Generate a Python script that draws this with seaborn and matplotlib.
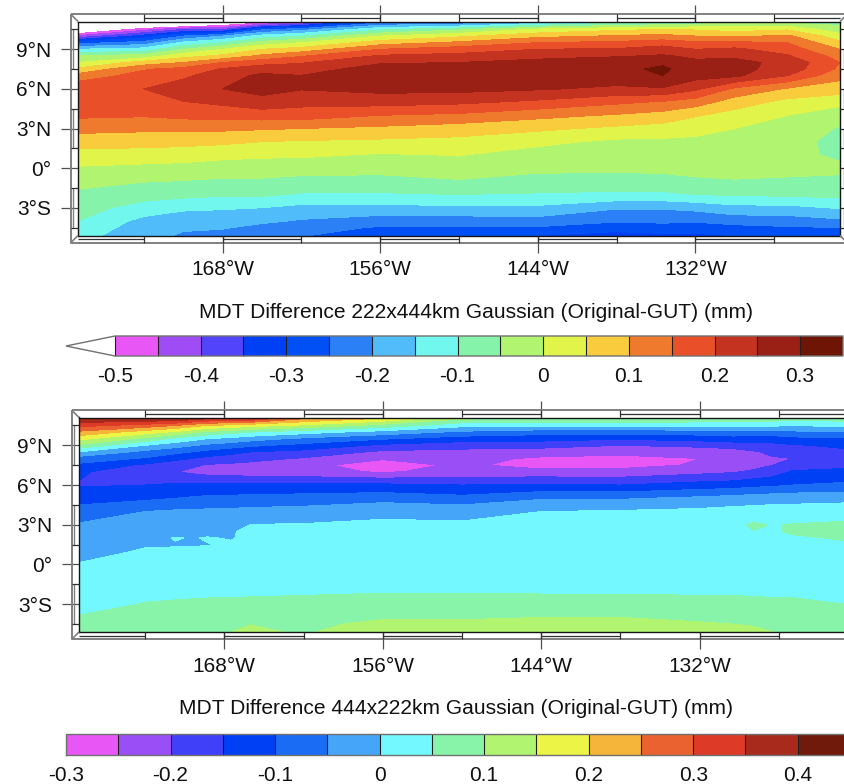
import numpy as np
import seaborn as sns
import matplotlib.pyplot as plt
from matplotlib.colors import BoundaryNorm, ListedColormap

W, H = 845, 784

lon_top = [-179, -174, -171, -168, -165, -162, -156, -150, -144, -138, -134.5, -132, -129, -125, -121]
lat_top = [-5.1, -4.5, -4, -3, -2, -1, 0, 1, 2, 3, 4, 5, 6, 7, 7.5, 8, 8.5, 9, 9.5, 10, 10.5, 11.1]
# one list per longitude, south to north
mdt_top = [
    [-.13, -.115, -.1, -.08, -.06, -.035, -.005, .03, .075, .115, .16, .185, .19, .12, .06, 0, -.05, -.15, -.27, -.44, -.6, -.8],
    [-.185, -.175, -.165, -.12, -.08, -.048, -.012, .026, .07, .11, .155, .18, .2, .17, .145, .07, -.03, -.13, -.23, -.33, -.47, -.7],
    [-.205, -.195, -.18, -.14, -.085, -.052, -.018, .025, .065, .11, .165, .198, .23, .19, .165, .1, .03, -.05, -.14, -.25, -.4, -.7],
    [-.22, -.195, -.18, -.145, -.093, -.058, -.025, .015, .06, .11, .17, .21, .25, .23, .205, .15, .06, 0, -.1, -.2, -.4, -.6],
    [-.235, -.215, -.19, -.15, -.092, -.058, -.025, .008, .05, .105, .175, .23, .27, .26, .23, .18, .11, .05, -.03, -.13, -.26, -.55],
    [-.245, -.23, -.205, -.165, -.105, -.065, -.03, .008, .045, .1, .175, .215, .253, .251, .23, .195, .145, .07, 0, -.1, -.22, -.49],
    [-.29, -.255, -.225, -.165, -.105, -.07, -.03, -.005, .04, .09, .15, .22, .265, .28, .27, .245, .205, .15, .075, 0, -.11, -.28],
    [-.3, -.255, -.225, -.16, -.1, -.055, -.02, .002, .035, .075, .14, .21, .265, .28, .27, .25, .215, .175, .11, .04, -.06, -.27],
    [-.3, -.255, -.22, -.16, -.105, -.066, -.04, -.02, .012, .06, .115, .19, .255, .28, .285, .27, .23, .2, .15, .085, .01, -.2],
    [-.325, -.275, -.245, -.195, -.11, -.07, -.04, -.03, -.01, .04, .095, .16, .24, .28, .285, .28, .245, .205, .16, .105, .04, -.14],
    [-.31, -.27, -.24, -.195, -.11, -.065, -.04, -.03, -.01, .03, .08, .145, .245, .3, .31, .29, .255, .225, .175, .115, .05, -.12],
    [-.31, -.27, -.245, -.185, -.1, -.055, -.04, -.025, -.01, .015, .055, .125, .21, .27, .27, .26, .24, .2, .16, .1, .045, -.1],
    [-.3, -.265, -.23, -.165, -.095, -.052, -.04, -.03, -.018, 0, .03, .075, .14, .26, .265, .265, .24, .21, .16, .09, .03, -.05],
    [-.3, -.255, -.225, -.165, -.09, -.055, -.04, -.042, -.038, -.015, 0, .035, .095, .2, .23, .235, .205, .175, .15, .11, .045, -.07],
    [-.28, -.25, -.21, -.145, -.085, -.055, -.045, -.055, -.06, -.055, -.03, .015, .075, .115, .14, .15, .13, .1, .06, .02, -.03, -.07],
]

lon_bot = [-179, -174, -171.7, -170.5, -169.3, -167.5, -166, -162, -156, -150, -144, -138, -132, -129.5, -127.9, -126.5, -125, -121]
lat_bot = [-5.1, -4.5, -4, -3, -2, -1, 0, 1, 1.5, 2, 2.5, 3, 4, 5, 6, 7, 7.5, 8, 8.5, 9, 9.5, 10, 10.5, 11.1]
mdt_bot = [
    [.075, .062, .053, .035, .025, .015, .002, -.012, -.02, -.028, -.036, -.045, -.08, -.12, -.155, -.14, -.11, -.075, 0, .09, .165, .24, .315, .41],
    [.085, .075, .065, .052, .038, .025, .012, .003, -.003, -.012, -.022, -.032, -.05, -.11, -.15, -.195, -.16, -.105, -.065, 0, .085, .175, .28, .41],
    [.09, .08, .07, .055, .04, .028, .015, .004, -.002, .002, -.012, -.025, -.043, -.1, -.143, -.198, -.175, -.14, -.085, -.03, .04, .14, .25, .42],
    [.092, .082, .072, .056, .041, .029, .016, .005, -.002, -.002, -.011, -.024, -.042, -.095, -.142, -.21, -.19, -.15, -.1, -.045, .02, .115, .225, .4],
    [.095, .085, .075, .057, .042, .03, .018, .006, -.001, .002, -.01, -.022, -.04, -.09, -.14, -.22, -.205, -.165, -.115, -.06, 0, .09, .2, .38],
    [.1, .09, .08, .058, .042, .031, .02, .01, .004, -.002, -.002, -.015, -.038, -.088, -.14, -.225, -.21, -.175, -.135, -.075, -.015, .07, .185, .375],
    [.108, .099, .088, .06, .042, .032, .022, .014, .01, .008, .005, .001, -.035, -.085, -.14, -.23, -.215, -.185, -.15, -.09, -.03, .05, .17, .37],
    [.095, .09, .08, .06, .045, .035, .028, .018, .013, .01, .007, .003, -.03, -.08, -.14, -.235, -.235, -.205, -.165, -.115, -.06, .02, .14, .27],
    [.125, .11, .095, .065, .047, .037, .028, .02, .016, .013, .01, .007, -.01, -.07, -.14, -.255, -.275, -.245, -.21, -.16, -.095, -.02, .08, .21],
    [.125, .11, .095, .065, .047, .037, .028, .02, .016, .013, .01, .006, -.015, -.085, -.15, -.235, -.24, -.23, -.215, -.18, -.125, -.06, .015, .12],
    [.12, .11, .1, .06, .047, .037, .03, .022, .018, .015, .012, .008, 0, -.055, -.145, -.235, -.27, -.26, -.22, -.185, -.13, -.08, .01, .12],
    [.12, .11, .1, .06, .047, .037, .03, .023, .02, .017, .014, .01, .005, -.055, -.15, -.235, -.265, -.265, -.235, -.2, -.145, -.08, .01, .12],
    [.11, .105, .09, .06, .045, .037, .03, .024, .022, .02, .022, .025, .012, -.04, -.13, -.215, -.245, -.25, -.225, -.19, -.13, -.075, .01, .1],
    [.105, .1, .088, .06, .045, .037, .032, .03, .032, .034, .036, .04, .018, -.03, -.125, -.205, -.225, -.235, -.22, -.18, -.12, -.07, .01, .1],
    [.105, .098, .085, .057, .045, .037, .032, .033, .036, .04, .049, .056, .02, -.025, -.115, -.19, -.22, -.23, -.205, -.17, -.125, -.07, .01, .09],
    [.1, .095, .08, .055, .045, .037, .033, .035, .038, .042, .047, .048, .022, -.02, -.11, -.175, -.2, -.205, -.19, -.165, -.125, -.07, .01, .085],
    [.1, .09, .08, .055, .045, .037, .035, .038, .042, .047, .053, .052, .022, -.018, -.1, -.145, -.175, -.2, -.18, -.155, -.115, -.06, 0, .08],
    [.1, .09, .078, .05, .044, .038, .036, .042, .047, .052, .056, .058, .028, -.015, -.09, -.14, -.16, -.17, -.16, -.14, -.105, -.055, .015, .08],
]

colors_top = ["#e856f5", "#9f4cf5", "#5244fa", "#0040f5", "#0050f5", "#2b80f5", "#50bcfa", "#72f7ee", "#85f4aa",
              "#b0f470", "#e0f44a", "#f9cc3e", "#ef7a2e", "#e9502a", "#c43220", "#9a2016", "#6f1506"]
colors_bot = ["#e856f5", "#9a4ef5", "#4040f8", "#0040f5", "#1a6cf5", "#45a5f8", "#72f8fe", "#88f4aa", "#b0f470",
              "#ecf545", "#f5b43a", "#ea6230", "#de3a28", "#a82a1c", "#701a0c"]
levels_top = [-.5, -.45, -.4, -.35, -.3, -.25, -.2, -.15, -.1, -.05, 0, .05, .1, .15, .2, .25, .3, .35]
levels_bot = [-.3, -.25, -.2, -.15, -.1, -.05, 0, .05, .1, .15, .2, .25, .3, .35, .4, .45]
ticks_top = [-.5, -.4, -.3, -.2, -.1, 0, .1, .2, .3]
labels_top = ["-0.5", "-0.4", "-0.3", "-0.2", "-0.1", "0", "0.1", "0.2", "0.3"]
ticks_bot = [-.3, -.2, -.1, 0, .1, .2, .3, .4]
labels_bot = ["-0.3", "-0.2", "-0.1", "0", "0.1", "0.2", "0.3", "0.4"]

lon_ticks = [-168, -156, -144, -132]
lon_labels = ["168°W", "156°W", "144°W", "132°W"]
lat_ticks = [-3, 0, 3, 6, 9]
lat_labels = ["3°S", "0°", "3°N", "6°N", "9°N"]
lon_minor = [-174, -162, -150, -138, -126]
lat_minor = [-4.5, -1.5, 1.5, 4.5, 7.5, 10.5]

sns.set_theme(style="white")
plt.rcParams["font.family"] = ["Liberation Sans", "DejaVu Sans"]


def px_axes(fig, left, top, right, bottom):
    return fig.add_axes([left / W, 1 - bottom / H, (right - left) / W, (bottom - top) / H])


def draw_frame(ax):
    # the beveled map border with its alternating rungs
    x0, x1 = ax.get_xlim()
    y0, y1 = ax.get_ylim()
    d, r = 0.55, 0.27
    grey = "#808080"
    dark = "#303030"
    kw = dict(clip_on=False, solid_capstyle="butt", zorder=5)
    ax.plot([x0 - d, x1 + d, x1 + d, x0 - d, x0 - d], [y1 + d, y1 + d, y0 - d, y0 - d, y1 + d], color=grey, lw=1.4, **kw)
    for cx, ox in ((x0, x0 - d), (x1, x1 + d)):
        for cy, oy in ((y0, y0 - d), (y1, y1 + d)):
            ax.plot([cx, ox], [cy, oy], color=grey, lw=1.2, **kw)
    edges_a = [x0, -174, -168, -162, -156, -150, -144, -138, -132, -126, x1]
    for i in range(len(edges_a) - 1):
        yy = y1 + r if i % 2 == 1 else y0 - r
        ax.plot(edges_a[i:i + 2], [yy, yy], color=dark, lw=0.9, **kw)
    for x in lon_ticks + lon_minor:
        ax.plot([x, x], [y0 - d, y0], color=dark, lw=0.9, **kw)
        ax.plot([x, x], [y1, y1 + d], color=dark, lw=0.9, **kw)
    edges_b = [-4.5, -1.5, 1.5, 4.5, 7.5, 10.5]
    for i in range(0, 5, 2):
        ax.plot([x0 - r * 1.3, x0 - r * 1.3], edges_b[i:i + 2], color=grey, lw=1.0, **kw)
    for i in range(len(lat_ticks)):
        ax.plot([x1, x1 + d], [lat_ticks[i]] * 2, color=dark, lw=0.9, **kw)
        ax.plot([x1 + r, x1 + r], [lat_ticks[i] - 1.5, lat_ticks[i]], color=dark, lw=0.9, **kw)
    for y in lat_minor:
        ax.plot([x0 - d, x0], [y, y], color=dark, lw=0.9, **kw)
        ax.plot([x1, x1 + d], [y, y], color=dark, lw=0.9, **kw)


def draw_map(ax, lon, lat, mdt, levels, colors, extend):
    cmap = ListedColormap(sns.color_palette(colors))
    cmap.set_under("white")
    norm = BoundaryNorm(levels, cmap.N, clip=False)
    cf = ax.contourf(lon, lat, np.array(mdt).T, levels=levels, cmap=cmap, norm=norm, extend=extend)
    ax.set_xlim(-179, -121)
    ax.set_ylim(-5.1, 11.1)
    ax.set_facecolor("white")
    ax.set_xticks(lon_ticks, labels=lon_labels, fontsize=15)
    ax.set_yticks(lat_ticks, labels=lat_labels, fontsize=15)
    ax.tick_params(axis="x", which="major", top=True, bottom=True, length=12.2, width=0.9,
                   color="#505050", pad=5.5, labelcolor="#111111")
    ax.tick_params(axis="y", which="major", left=True, length=12.2, width=0.9,
                   color="#505050", pad=7, labelcolor="#111111")
    for s in ax.spines.values():
        s.set_linewidth(1.0)
        s.set_color("#151515")
    draw_frame(ax)
    return cf


def draw_bar(fig, cf, box, ticks, labels, title, title_x, title_y, extendfrac=None):
    cax = px_axes(fig, *box)
    cb = fig.colorbar(cf, cax=cax, orientation="horizontal", drawedges=True,
                      spacing="proportional", extendfrac=extendfrac)
    cb.set_ticks(ticks, labels=labels)
    cb.ax.minorticks_off()
    cb.ax.tick_params(length=0, pad=8, labelsize=15, labelcolor="#111111")
    cb.dividers.set_color("#202020")
    cb.dividers.set_linewidth(0.8)
    cb.outline.set_edgecolor("#707070")
    cb.outline.set_linewidth(1.0)
    fig.text(title_x / W, 1 - title_y / H, title, ha="center", va="center", fontsize=15.1, color="#111111")


fig = plt.figure(figsize=(W / 100, H / 100), dpi=100, facecolor="white")

ax1 = px_axes(fig, 78, 21.5, 840, 235.5)
cf1 = draw_map(ax1, lon_top, lat_top, mdt_top, levels_top, colors_top, "min")
draw_bar(fig, cf1, (66, 336, 843, 356), ticks_top, labels_top,
         "MDT Difference 222x444km Gaussian (Original-GUT) (mm)", 476, 312, extendfrac=49 / 728)

ax2 = px_axes(fig, 79, 417.5, 845, 632)
cf2 = draw_map(ax2, lon_bot, lat_bot, mdt_bot, levels_bot, colors_bot, "neither")
draw_bar(fig, cf2, (66, 734, 850, 755), ticks_bot, labels_bot,
         "MDT Difference 444x222km Gaussian (Original-GUT) (mm)", 456, 709)

fig.savefig("out.png", dpi=100)
